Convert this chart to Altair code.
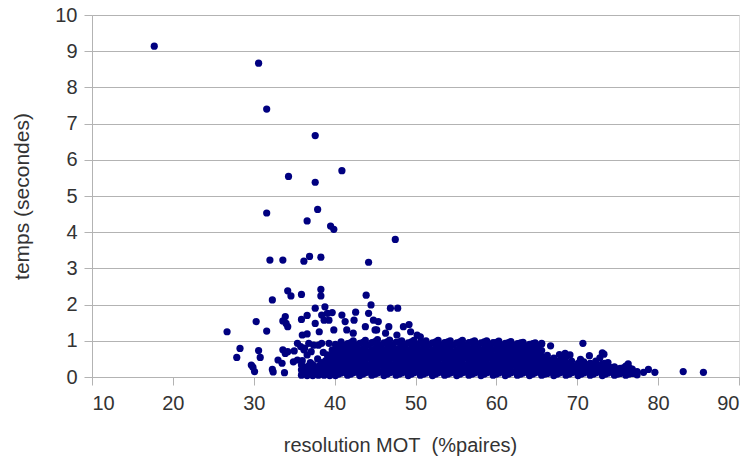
import altair as alt
import pandas as pd

# Isolated high points (x = resolution MOT %, y = seconds)
upper_x = [17.7, 30.6, 31.6, 37.6, 34.3, 37.6, 40.9, 31.6, 37.9, 36.6, 39.5, 39.9, 47.5,
           32.0, 33.6, 36.2, 36.9, 38.3, 44.2, 34.2, 34.6, 35.9, 38.3, 38.3, 43.9, 32.3]
upper_y = [9.14, 8.67, 7.40, 6.67, 5.54, 5.38, 5.70, 4.53, 4.63, 4.31, 4.17, 4.08, 3.80,
           3.23, 3.23, 3.20, 3.33, 3.31, 3.17, 2.38, 2.24, 2.28, 2.42, 2.24, 2.26, 2.13]

# Points between 1 and 2 seconds
mid_x = [26.7, 30.3, 31.6, 33.9, 34.0, 34.2, 33.6, 35.9, 36.6, 37.6, 37.6, 38.8, 38.4, 39.1,
         39.7, 38.7, 39.3, 38.1, 36.0, 36.6, 40.9, 42.6, 41.3, 42.4, 39.9, 41.5, 42.3, 44.5,
         44.2, 44.8, 45.0, 43.8, 45.4, 46.7, 48.5, 45.2, 46.3, 47.7, 49.4, 50.2, 50.6, 46.9,
         47.8, 49.2]
mid_y = [1.25, 1.53, 1.27, 1.67, 1.48, 1.39, 1.55, 1.59, 1.70, 1.90, 1.48, 1.94, 1.71, 1.76,
         1.78, 1.57, 1.57, 1.25, 1.16, 1.19, 1.71, 1.79, 1.53, 1.57, 1.30, 1.30, 1.21, 1.99,
         1.76, 1.57, 1.30, 1.39, 1.53, 1.39, 1.39, 1.30, 1.21, 1.16, 1.25, 1.16, 1.11, 1.90,
         1.90, 1.45]

# Sparse points below 1 second on the left and on the right tail
low_x = [28.3, 27.9, 30.6, 30.8, 29.7, 29.9, 32.3, 33.0, 33.6, 33.9, 34.2, 33.5, 35.4, 35.8,
         34.9, 35.4, 30.1, 33.8, 32.4, 36.2, 36.6, 36.8, 37.4, 38.0, 38.4, 39.3, 39.7, 39.1,
         36.0, 37.9, 38.6, 37.0, 38.9, 35.0, 36.3, 37.1,
         70.7, 66.7, 65.6, 68.5, 69.1, 68.1, 71.5, 70.4, 73.1, 73.3, 72.8, 71.6, 73.4, 76.3,
         76.5, 78.8, 79.6, 78.2, 83.1, 85.6]
low_y = [0.79, 0.54, 0.73, 0.54, 0.33, 0.27, 0.21, 0.47, 0.75, 0.65, 0.70, 0.38, 0.93, 0.84,
         0.42, 0.47, 0.15, 0.12, 0.14, 0.75, 0.61, 0.93, 0.88, 0.88, 0.93, 0.93, 0.75, 0.61,
         0.45, 0.50, 0.68, 0.40, 0.45, 0.72, 0.80, 0.70,
         0.93, 0.86, 0.93, 0.65, 0.61, 0.56, 0.59, 0.49, 0.67, 0.63, 0.53, 0.38, 0.38, 0.36,
         0.24, 0.21, 0.13, 0.13, 0.15, 0.13]

# Dense band: columns of points (x, list of y)
band_cols = [
    (35.9, [0.05, 0.20, 0.33]), (36.3, [0.12, 0.27]), (36.6, [0.04, 0.19]),
    (37.0, [0.10, 0.26]), (37.3, [0.04, 0.19, 0.34]), (37.7, [0.12, 0.28]),
    (38.0, [0.05, 0.20]), (38.4, [0.12, 0.28, 0.40]), (38.7, [0.05, 0.20, 0.35]),
    (39.1, [0.12, 0.27]), (39.4, [0.04, 0.20, 0.36, 0.50]), (39.8, [0.12, 0.28, 0.44, 0.62]),
    (40.1, [0.04, 0.20, 0.37, 0.55, 0.74, 0.90]),
    (40.8, [0.11, 0.28, 0.46, 0.63, 0.82, 0.97]),
    (41.6, [0.05, 0.22, 0.39, 0.57, 0.75, 0.92]),
    (42.3, [0.12, 0.30, 0.47, 0.65, 0.83, 1.00]),
    (43.1, [0.04, 0.21, 0.38, 0.56, 0.74, 0.93]),
    (43.8, [0.12, 0.29, 0.47, 0.64, 0.82, 1.01]),
    (44.6, [0.05, 0.22, 0.40, 0.57, 0.75, 0.95]),
    (45.3, [0.11, 0.29, 0.46, 0.64, 0.83, 1.03]),
    (46.1, [0.04, 0.21, 0.39, 0.56, 0.75, 0.94]),
    (46.8, [0.12, 0.30, 0.47, 0.65, 0.84, 1.02]),
    (47.6, [0.05, 0.22, 0.40, 0.58, 0.76, 0.96]),
    (48.3, [0.11, 0.28, 0.46, 0.64, 0.82, 1.00]),
    (49.1, [0.04, 0.21, 0.39, 0.57, 0.75, 0.94]),
    (49.8, [0.12, 0.29, 0.47, 0.65, 0.83, 1.01]),
    (50.6, [0.05, 0.23, 0.40, 0.58, 0.76, 0.95]),
    (51.3, [0.11, 0.28, 0.46, 0.63, 0.82, 1.00]),
    (52.1, [0.04, 0.22, 0.39, 0.57, 0.75, 0.94]),
    (52.8, [0.12, 0.30, 0.47, 0.65, 0.84, 1.01]),
    (53.6, [0.05, 0.21, 0.40, 0.58, 0.76, 0.95]),
    (54.3, [0.11, 0.29, 0.46, 0.64, 0.83, 1.00]),
    (55.1, [0.04, 0.22, 0.39, 0.56, 0.75, 0.94]),
    (55.8, [0.12, 0.30, 0.48, 0.65, 0.83, 1.01]),
    (56.6, [0.05, 0.23, 0.40, 0.57, 0.76, 0.95]),
    (57.3, [0.11, 0.28, 0.46, 0.64, 0.82, 1.00]),
    (58.1, [0.04, 0.21, 0.39, 0.57, 0.74, 0.94]),
    (58.8, [0.12, 0.29, 0.47, 0.65, 0.83, 1.00]),
    (59.6, [0.05, 0.22, 0.40, 0.58, 0.76, 0.95]),
    (60.3, [0.11, 0.29, 0.46, 0.64, 0.82, 0.99]),
    (61.1, [0.04, 0.22, 0.39, 0.57, 0.75, 0.93]),
    (61.8, [0.12, 0.30, 0.47, 0.64, 0.82, 0.98]),
    (62.6, [0.05, 0.21, 0.40, 0.57, 0.75, 0.92]),
    (63.3, [0.11, 0.28, 0.46, 0.63, 0.80, 0.96]),
    (64.1, [0.04, 0.22, 0.39, 0.56, 0.74, 0.90]),
    (64.8, [0.12, 0.29, 0.47, 0.64, 0.81, 0.94]),
    (65.6, [0.05, 0.22, 0.40, 0.57, 0.73, 0.91]),
    (66.3, [0.10, 0.27, 0.44, 0.60]),
    (67.1, [0.04, 0.21, 0.38, 0.52]),
    (67.8, [0.11, 0.28, 0.45, 0.62]),
    (68.6, [0.05, 0.22, 0.39, 0.55]),
    (69.3, [0.12, 0.29, 0.44]),
    (70.1, [0.04, 0.21, 0.38]),
    (70.8, [0.11, 0.28, 0.42]),
    (71.6, [0.05, 0.22, 0.36]),
    (72.3, [0.12, 0.29, 0.44]),
    (73.1, [0.04, 0.20, 0.36]),
    (73.8, [0.11, 0.27, 0.40]),
    (74.6, [0.05, 0.18, 0.28]),
    (75.3, [0.10, 0.24]),
    (76.0, [0.05, 0.18, 0.30]),
    (76.8, [0.10, 0.22]),
    (77.4, [0.06, 0.15]),
]

# Points lying between the band columns
fill_cols = [
    (36.0, [0.12]), (36.8, [0.12, 0.31]), (37.5, [0.24]), (38.2, [0.13, 0.33]),
    (38.9, [0.12, 0.28]), (39.6, [0.12, 0.28]),
    (40.5, [0.08, 0.25, 0.42, 0.60, 0.78]),
    (41.2, [0.14, 0.33, 0.51, 0.69, 0.87]),
    (42.0, [0.08, 0.26, 0.43, 0.61, 0.79, 0.95]),
    (42.7, [0.15, 0.34, 0.52, 0.70, 0.88]),
    (43.5, [0.08, 0.25, 0.43, 0.60, 0.78, 0.96]),
    (44.2, [0.15, 0.33, 0.52, 0.69, 0.88]),
    (45.0, [0.08, 0.26, 0.43, 0.61, 0.79, 0.98]),
    (45.7, [0.15, 0.34, 0.51, 0.70, 0.88]),
    (46.5, [0.08, 0.25, 0.43, 0.60, 0.79, 0.97]),
    (47.2, [0.15, 0.33, 0.52, 0.70, 0.88]),
    (48.0, [0.08, 0.26, 0.44, 0.61, 0.79, 0.97]),
    (48.7, [0.15, 0.34, 0.51, 0.69, 0.87]),
    (49.5, [0.08, 0.25, 0.43, 0.61, 0.79, 0.97]),
    (50.2, [0.15, 0.33, 0.52, 0.70, 0.88]),
    (51.0, [0.08, 0.26, 0.43, 0.60, 0.79, 0.96]),
    (51.7, [0.15, 0.34, 0.51, 0.69, 0.88]),
    (52.5, [0.08, 0.25, 0.43, 0.61, 0.79, 0.97]),
    (53.2, [0.15, 0.33, 0.52, 0.70, 0.88]),
    (54.0, [0.08, 0.26, 0.44, 0.61, 0.79, 0.97]),
    (54.7, [0.15, 0.34, 0.51, 0.69, 0.88]),
    (55.5, [0.08, 0.25, 0.43, 0.60, 0.79, 0.97]),
    (56.2, [0.15, 0.33, 0.52, 0.70, 0.88]),
    (57.0, [0.08, 0.26, 0.43, 0.61, 0.79, 0.97]),
    (57.7, [0.15, 0.34, 0.51, 0.69, 0.87]),
    (58.5, [0.08, 0.25, 0.43, 0.61, 0.79, 0.97]),
    (59.2, [0.15, 0.33, 0.52, 0.70, 0.88]),
    (60.0, [0.08, 0.26, 0.44, 0.60, 0.79, 0.96]),
    (60.7, [0.15, 0.34, 0.51, 0.69, 0.87]),
    (61.5, [0.08, 0.25, 0.43, 0.61, 0.79, 0.95]),
    (62.2, [0.15, 0.33, 0.52, 0.70, 0.86]),
    (63.0, [0.08, 0.26, 0.43, 0.60, 0.78, 0.94]),
    (63.7, [0.15, 0.34, 0.51, 0.68, 0.85]),
    (64.5, [0.08, 0.25, 0.43, 0.60, 0.77, 0.92]),
    (65.2, [0.15, 0.33, 0.51, 0.68, 0.84]),
    (66.0, [0.08, 0.22, 0.36, 0.52]),
    (66.7, [0.14, 0.30, 0.46]),
    (67.5, [0.08, 0.24, 0.36]),
    (68.2, [0.15, 0.32, 0.48]),
    (69.0, [0.08, 0.25, 0.36]),
    (69.7, [0.15, 0.30]),
    (70.5, [0.08, 0.25, 0.34]),
    (71.2, [0.15, 0.30]),
    (72.0, [0.08, 0.26, 0.36]),
    (72.7, [0.15, 0.30]),
    (73.5, [0.08, 0.24, 0.34]),
    (74.2, [0.15, 0.26]),
    (75.0, [0.08, 0.20]),
    (75.7, [0.14, 0.25]),
    (76.4, [0.08, 0.20]),
    (77.1, [0.12]),
]

x_ticks = [10, 20, 30, 40, 50, 60, 70, 80, 90]
y_ticks = [0, 1, 2, 3, 4, 5, 6, 7, 8, 9, 10]

rows = []
for xs, ys in ((upper_x, upper_y), (mid_x, mid_y), (low_x, low_y)):
    rows += [{"x": a, "y": b} for a, b in zip(xs, ys)]
for cx, cys in band_cols + fill_cols:
    rows += [{"x": cx, "y": v} for v in cys]
df = pd.DataFrame(rows)

GRID = "#b3b3b3"
TXT = "#333333"
FONT = "Liberation Sans"

chart = alt.Chart(df).mark_circle(size=52, opacity=1, color="#000080").encode(
    x=alt.X("x:Q", scale=alt.Scale(domain=[10, 90], nice=False, zero=False),
            axis=alt.Axis(values=x_ticks, grid=False, tickSize=8, tickColor=GRID,
                          domainColor=GRID, labelFontSize=20, labelColor=TXT, labelFont=FONT,
                          labelPadding=8, title="resolution MOT\u00a0 (%paires)",
                          titleFont=FONT, titleFontSize=20, titleFontWeight="normal",
                          titleColor=TXT, titleX=308, titleY=68, titleBaseline="middle",
                          titleAlign="center")),
    y=alt.Y("y:Q", scale=alt.Scale(domain=[0, 10], nice=False),
            axis=alt.Axis(values=y_ticks, grid=True, gridColor=GRID, tickSize=8,
                          tickColor=GRID, domainColor=GRID, labelFontSize=20,
                          labelColor=TXT, labelFont=FONT, labelPadding=7,
                          title="temps (secondes)", titleFont=FONT, titleFontSize=21,
                          titleFontWeight="normal", titleColor=TXT, titleAngle=-90,
                          titleX=-70, titleY=181, titleBaseline="middle",
                          titleAlign="center")),
).properties(
    width=647, height=362,
    autosize=alt.AutoSizeParams(type="none"),
    padding={"left": 92, "top": 15, "right": 10, "bottom": 83},
).configure_view(stroke=GRID, strokeWidth=1).configure(background="white")

chart.save("out.html", embed_options={"renderer": "svg", "actions": False})
